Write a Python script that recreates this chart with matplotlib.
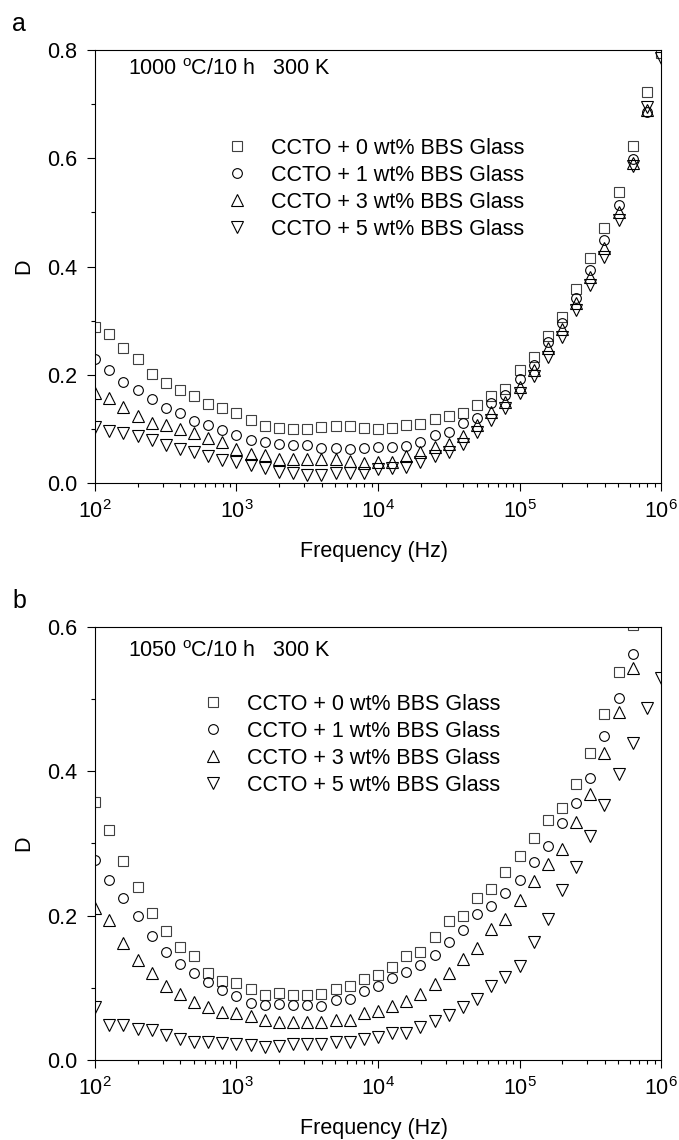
import matplotlib
matplotlib.use("Agg")
import matplotlib.pyplot as plt
from matplotlib.ticker import MultipleLocator, FormatStrFormatter

plt.rcParams['font.family'] = ['Liberation Sans', 'DejaVu Sans']
plt.rcParams['mathtext.fontset'] = 'custom'
plt.rcParams['mathtext.rm'] = 'Liberation Sans'
plt.rcParams['mathtext.it'] = 'Liberation Sans'
plt.rcParams['mathtext.default'] = 'regular'

# frequencies (Hz), 10 points per decade
freq = [100, 126, 158, 200, 251, 316, 398, 501, 631, 794,
        1000, 1259, 1585, 1995, 2512, 3162, 3981, 5012, 6310, 7943,
        10000, 12589, 15849, 19953, 25119, 31623, 39811, 50119, 63096, 79433,
        100000, 125893, 158489, 199526, 251189, 316228, 398107, 501187, 630957, 794328,
        1000000]

labels = ['CCTO + 0 wt% BBS Glass', 'CCTO + 1 wt% BBS Glass',
          'CCTO + 3 wt% BBS Glass', 'CCTO + 5 wt% BBS Glass']

# panel a : 1000 C / 10 h
a0 = [0.289, 0.275, 0.250, 0.229, 0.201, 0.185, 0.171, 0.160, 0.146, 0.139,
      0.129, 0.116, 0.106, 0.101, 0.100, 0.100, 0.104, 0.106, 0.105, 0.102,
      0.100, 0.102, 0.108, 0.109, 0.118, 0.123, 0.130, 0.144, 0.160, 0.173,
      0.208, 0.232, 0.272, 0.306, 0.358, 0.416, 0.471, 0.537, 0.622, 0.723,
      0.795]
a1 = [0.229, 0.209, 0.187, 0.171, 0.155, 0.138, 0.129, 0.115, 0.107, 0.098,
      0.089, 0.079, 0.075, 0.072, 0.070, 0.070, 0.064, 0.064, 0.063, 0.064,
      0.067, 0.067, 0.069, 0.076, 0.089, 0.095, 0.111, 0.121, 0.147, 0.163,
      0.192, 0.218, 0.261, 0.295, 0.341, 0.394, 0.449, 0.514, 0.598, 0.685,
      0.830]
a3 = [0.166, 0.157, 0.140, 0.123, 0.111, 0.107, 0.099, 0.092, 0.084, 0.076,
      0.063, 0.054, 0.051, 0.044, 0.044, 0.044, 0.044, 0.045, 0.041, 0.037,
      0.038, 0.039, 0.049, 0.058, 0.067, 0.073, 0.086, 0.107, 0.132, 0.150,
      0.178, 0.209, 0.249, 0.284, 0.333, 0.381, 0.434, 0.501, 0.592, 0.690,
      0.820]
a5 = [0.104, 0.097, 0.092, 0.086, 0.079, 0.070, 0.062, 0.058, 0.050, 0.043,
      0.038, 0.033, 0.027, 0.021, 0.018, 0.015, 0.015, 0.018, 0.018, 0.018,
      0.025, 0.027, 0.030, 0.038, 0.050, 0.058, 0.073, 0.095, 0.116, 0.138,
      0.166, 0.197, 0.232, 0.269, 0.320, 0.366, 0.418, 0.486, 0.586, 0.695,
      0.785]

# panel b : 1050 C / 10 h
b0 = [0.357, 0.318, 0.276, 0.240, 0.204, 0.179, 0.156, 0.144, 0.121, 0.110,
      0.106, 0.099, 0.090, 0.093, 0.090, 0.090, 0.091, 0.098, 0.102, 0.112,
      0.118, 0.129, 0.144, 0.149, 0.170, 0.192, 0.200, 0.225, 0.237, 0.260,
      0.283, 0.307, 0.332, 0.349, 0.383, 0.426, 0.479, 0.538, 0.603, 0.680,
      0.760]
b1 = [0.277, 0.250, 0.224, 0.199, 0.172, 0.150, 0.133, 0.121, 0.108, 0.097,
      0.089, 0.079, 0.076, 0.077, 0.076, 0.076, 0.075, 0.083, 0.085, 0.096,
      0.103, 0.113, 0.122, 0.132, 0.145, 0.163, 0.180, 0.202, 0.214, 0.232,
      0.250, 0.275, 0.297, 0.328, 0.356, 0.391, 0.449, 0.502, 0.563, 0.640,
      0.720]
b3 = [0.210, 0.194, 0.162, 0.138, 0.120, 0.102, 0.091, 0.081, 0.074, 0.067,
      0.065, 0.061, 0.055, 0.052, 0.053, 0.052, 0.053, 0.055, 0.055, 0.065,
      0.068, 0.075, 0.082, 0.092, 0.105, 0.121, 0.140, 0.155, 0.181, 0.196,
      0.221, 0.248, 0.272, 0.292, 0.330, 0.369, 0.426, 0.482, 0.543, 0.630,
      0.700]
b5 = [0.074, 0.048, 0.048, 0.043, 0.042, 0.035, 0.029, 0.025, 0.025, 0.023,
      0.022, 0.021, 0.018, 0.019, 0.022, 0.022, 0.022, 0.025, 0.025, 0.029,
      0.032, 0.038, 0.038, 0.045, 0.054, 0.062, 0.073, 0.085, 0.102, 0.115,
      0.130, 0.164, 0.196, 0.236, 0.268, 0.310, 0.353, 0.396, 0.439, 0.488,
      0.529]

markers = ['s', 'o', '^', 'v']
msizes = [7, 7, 8.5, 8.5]
mcolors = ['#404040', 'black', 'black', 'black']

fs = 15.5
fig = plt.figure(figsize=(6.79, 11.4), dpi=100)

panels = [
    dict(rect=[0.1399, 0.5763, 0.8336, 0.3798], data=[a0, a1, a3, a5], ymax=0.8,
         note='1000 $^{o}$C/10 h   300 K', note_y=0.955, letter='a', letter_y=0.979,
         leg=(0.2315, 0.798)),
    dict(rect=[0.1399, 0.0702, 0.8336, 0.3798], data=[b0, b1, b3, b5], ymax=0.6,
         note='1050 $^{o}$C/10 h   300 K', note_y=0.944, letter='b', letter_y=0.473,
         leg=(0.189, 0.846)),
]

for p in panels:
    ax = fig.add_axes(p['rect'])
    for ys, m, ms, c, lab in zip(p['data'], markers, msizes, mcolors, labels):
        ax.plot(freq, ys, linestyle='none', marker=m, markersize=ms,
                markerfacecolor='none', markeredgecolor=c, markeredgewidth=0.8,
                label=lab)
    ax.set_xscale('log')
    ax.set_xlim(1e2, 1e6)
    ax.set_ylim(0, p['ymax'])
    ax.yaxis.set_major_locator(MultipleLocator(0.2))
    ax.yaxis.set_minor_locator(MultipleLocator(0.1))
    ax.yaxis.set_major_formatter(FormatStrFormatter('%.1f'))
    ax.tick_params(which='major', direction='out', length=6, width=0.8,
                   labelsize=fs)
    ax.tick_params(which='minor', direction='out', length=3, width=0.8)
    ax.tick_params(axis='y', pad=7)
    ax.tick_params(axis='x', pad=6)
    for s in ax.spines.values():
        s.set_linewidth(0.8)
    ax.set_xlabel('Frequency (Hz)', fontsize=fs)
    ax.xaxis.set_label_coords(0.493, -0.135)
    ax.set_ylabel('D', fontsize=fs)
    ax.yaxis.set_label_coords(-0.108, 0.5)
    ax.text(0.058, p['note_y'], p['note'], transform=ax.transAxes, fontsize=fs,
            ha='left', va='center')
    ax.legend(loc='upper left', bbox_to_anchor=p['leg'], frameon=False,
              numpoints=1, handlelength=1.0, handletextpad=1.1,
              labelspacing=0.28, borderpad=0, borderaxespad=0, fontsize=fs)
    fig.text(0.018, p['letter_y'], p['letter'], fontsize=18, va='center')

fig.savefig('out.png', dpi=100)
